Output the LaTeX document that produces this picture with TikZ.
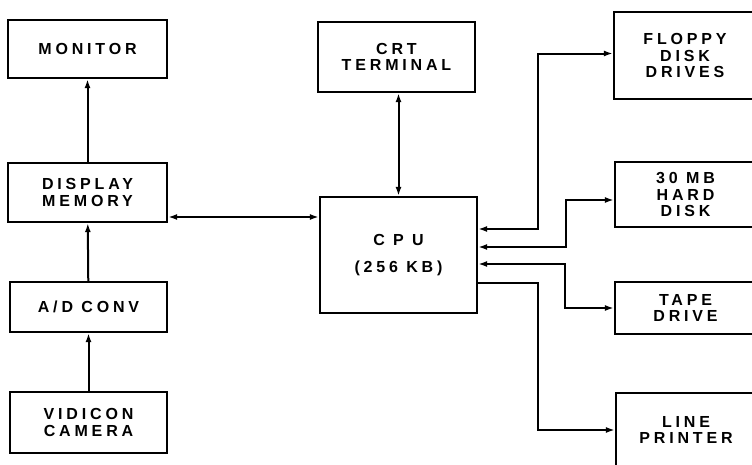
\documentclass[tikz,border=0pt]{standalone}
\usepackage{fontspec}
\usepackage{tikz}
\usetikzlibrary{arrows.meta,positioning,calc}
\newfontfamily\lettering{Liberation Sans}[LetterSpace=24]
\tikzset{
  blk/.style={draw,line width=2.2pt,align=center,inner sep=0pt,
    font=\lettering\bfseries\fontsize{16}{16.5}\selectfont},
  arr/.style={-{Latex[length=9pt,width=6pt]},line width=2pt},
  biarr/.style={{Latex[length=9pt,width=6pt]}-{Latex[length=9pt,width=6pt]},line width=2pt}
}
\begin{document}
\begin{tikzpicture}[x=1pt,y=-1pt]
  \useasboundingbox (0,0) rectangle (752,464);
  \clip (0,0) rectangle (752,464);
  % left column
  \node[blk,minimum width=159pt,minimum height=58pt] (monitor) at (87.5,49) {MONITOR};
  \node[blk,minimum width=159pt,minimum height=59pt] (dispmem) at (87.5,192.5) {DISPLAY\\MEMORY};
  \node[blk,minimum width=157pt,minimum height=50pt] (adconv) at (88.5,307) {A/D CONV};
  \node[blk,minimum width=157pt,minimum height=61pt] (vidicon) at (88.5,422.5) {VIDICON\\CAMERA};
  % centre
  \node[blk,minimum width=157pt,minimum height=70pt] (crt) at (396.5,57) {CRT\\TERMINAL};
  \node[blk,minimum width=157pt,minimum height=116pt] (cpu) at (398.5,255) {C P U\\[10pt](256 KB)};
  % right column, cut at the page edge
  \node[blk,minimum width=142pt,minimum height=87pt] (floppy) at (685,55.5) {FLOPPY\\DISK\\DRIVES};
  \node[blk,minimum width=141pt,minimum height=65pt] (hdd) at (685.5,194.5) {30 MB\\HARD\\DISK};
  \node[blk,minimum width=141pt,minimum height=52pt] (tape) at (685.5,308) {TAPE\\DRIVE};
  \node[blk,minimum width=140pt,minimum height=74pt] (printer) at (686,430) {LINE\\PRINTER};

  \draw[arr] (dispmem) -- (monitor);
  \draw[arr] (adconv) -- (dispmem);
  \draw[arr] (vidicon) -- (adconv);
  \coordinate (dm) at ([yshift=-24.5pt]dispmem.east);
  \draw[biarr] (dm) -- (cpu.west |- dm);
  \draw[biarr] (cpu.north) -- (cpu.north |- crt.south);
  \draw[biarr] ([yshift=26pt]cpu.east) -- ++(60,0) |- ([yshift=2pt]floppy.west);
  \draw[biarr] ([yshift=8pt]cpu.east) -- ++(88,0) |- ([yshift=-5.5pt]hdd.west);
  \draw[biarr] ([yshift=-9pt]cpu.east) -- ++(87,0) |- (tape.west);
  \draw[arr] ([yshift=-28pt]cpu.east) -- ++(60,0) |- (printer.west);
\end{tikzpicture}
\end{document}
